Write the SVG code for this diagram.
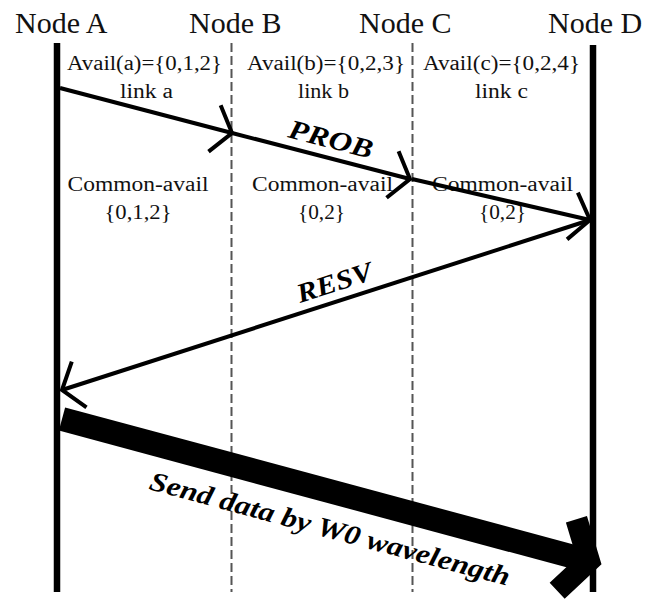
<svg xmlns="http://www.w3.org/2000/svg" width="650" height="601" viewBox="0 0 650 601">
  <style>
    .node-label { font-family: "Liberation Serif", "Times New Roman", serif; font-size: 30px; fill: #111; }
    .info { font-family: "Liberation Serif", "Times New Roman", serif; font-size: 20px; fill: #111; }
    .msg { font-family: "Liberation Serif", "Times New Roman", serif; font-size: 27px; font-weight: bold; font-style: italic; fill: #000; }
    .lifeline { stroke: #000; stroke-width: 6.5; fill: none; }
    .hop { stroke: #555; stroke-width: 2; stroke-dasharray: 9 4; fill: none; }
    .signal { stroke: #000; stroke-width: 4; fill: none; }
    .data { stroke: #000; stroke-width: 24; fill: none; stroke-linecap: butt; }
  </style>
  <defs>
    <!-- open arrowhead for control messages -->
    <marker id="open-head" markerUnits="userSpaceOnUse" orient="auto" refX="0" refY="0" markerWidth="60" markerHeight="60" viewBox="-30 -30 60 60" overflow="visible">
      <path d="M -18 -24 L 0 0 L -18 24" fill="none" stroke="#000" stroke-width="4" stroke-linejoin="miter"/>
    </marker>
    <!-- heavy chevron for the data burst -->
    <marker id="data-head" markerUnits="userSpaceOnUse" orient="auto" refX="0" refY="0" markerWidth="120" markerHeight="120" viewBox="-60 -60 120 120" overflow="visible">
      <path d="M -23 -37 L 0 0 L -23 37" fill="none" stroke="#000" stroke-width="22" stroke-linejoin="miter" stroke-miterlimit="10"/>
    </marker>
  </defs>

  <rect width="650" height="601" fill="#fff"/>

  <!-- nodes: label and lifeline -->
  <g id="node-a">
    <text class="node-label" x="15" y="33">Node A</text>
    <line class="lifeline" x1="57" y1="43" x2="57" y2="592"/>
  </g>
  <g id="node-b">
    <text class="node-label" x="189" y="33">Node B</text>
    <line class="hop" x1="231.5" y1="43" x2="231.5" y2="592"/>
  </g>
  <g id="node-c">
    <text class="node-label" x="359" y="33">Node C</text>
    <line class="hop" x1="412.5" y1="43" x2="412.5" y2="592"/>
  </g>
  <g id="node-d">
    <text class="node-label" x="548" y="33">Node D</text>
    <line class="lifeline" x1="593" y1="45" x2="593" y2="592"/>
  </g>

  <!-- per-link wavelength availability -->
  <g id="link-info">
    <text class="info" x="67" y="70" textLength="155" lengthAdjust="spacingAndGlyphs">Avail(a)={0,1,2}</text>
    <text class="info" x="120" y="98" textLength="53" lengthAdjust="spacingAndGlyphs">link a</text>
    <text class="info" x="247" y="70" textLength="158" lengthAdjust="spacingAndGlyphs">Avail(b)={0,2,3}</text>
    <text class="info" x="298" y="98" textLength="51" lengthAdjust="spacingAndGlyphs">link b</text>
    <text class="info" x="423" y="70" textLength="157" lengthAdjust="spacingAndGlyphs">Avail(c)={0,2,4}</text>
    <text class="info" x="475" y="98" textLength="53" lengthAdjust="spacingAndGlyphs">link c</text>

    <text class="info" x="67.5" y="191" textLength="141" lengthAdjust="spacingAndGlyphs">Common-avail</text>
    <text class="info" x="104.5" y="219" textLength="67" lengthAdjust="spacingAndGlyphs">{0,1,2}</text>
    <text class="info" x="252" y="191" textLength="141" lengthAdjust="spacingAndGlyphs">Common-avail</text>
    <text class="info" x="298" y="219" textLength="47" lengthAdjust="spacingAndGlyphs">{0,2}</text>
    <text class="info" x="432" y="191" textLength="141" lengthAdjust="spacingAndGlyphs">Common-avail</text>
    <text class="info" x="479" y="219" textLength="47" lengthAdjust="spacingAndGlyphs">{0,2}</text>
  </g>

  <!-- messages -->
  <g id="connectors">
    <line class="signal" x1="60" y1="88" x2="232" y2="133" marker-end="url(#open-head)"/>
    <line class="signal" x1="232" y1="133" x2="410" y2="179" marker-end="url(#open-head)"/>
    <line class="signal" x1="412" y1="179" x2="590" y2="220" marker-end="url(#open-head)"/>
    <text class="msg" transform="translate(287 137) rotate(14.5)" textLength="86" lengthAdjust="spacingAndGlyphs">PROB</text>

    <line class="signal" x1="590" y1="220" x2="62" y2="390" marker-end="url(#open-head)"/>
    <text class="msg" transform="translate(300 303) rotate(-17.85)" textLength="78" lengthAdjust="spacingAndGlyphs">RESV</text>

    <line class="data" x1="62" y1="419" x2="589" y2="561" marker-end="url(#data-head)"/>
    <text class="msg" transform="translate(148 489) rotate(15.1)" textLength="372" lengthAdjust="spacingAndGlyphs">Send data by W0 wavelength</text>
  </g>
</svg>
